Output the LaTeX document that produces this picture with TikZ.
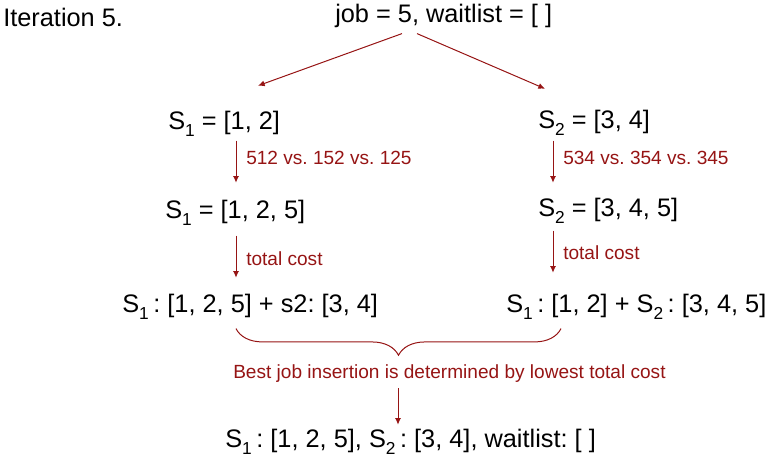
\documentclass[tikz,border=0pt]{standalone}
\usepackage{fontspec}
\setmainfont{Liberation Sans}
\usetikzlibrary{calc,arrows.meta,decorations.pathreplacing}
\definecolor{costred}{RGB}{150,20,20}
\newcommand{\ssub}[1]{\raisebox{-0.24em}{\fontsize{13}{13}\selectfont #1}}
\newcommand{\cln}{\hspace{0.18em}: }
\frenchspacing
\tikzset{
  big/.style={anchor=base west, inner sep=0pt, text height=13.5pt,
              text depth=4pt, font=\fontsize{19}{22}\selectfont},
  note/.style={anchor=base west, inner sep=0pt, text=costred,
               font=\fontsize{14.3}{17}\selectfont},
  arr/.style={draw=costred, line width=0.75pt, -{Latex[length=5pt,width=4.5pt]}},
  brc/.style={draw=costred, line width=0.75pt, decorate,
              decoration={brace, amplitude=20pt}}
}

\begin{document}
\begin{tikzpicture}[x=0.75pt, y=-0.75pt]
  \useasboundingbox (0,0) rectangle (769,466);
  \node[big] (iter) at (3,27) {Iteration 5.};
  \node[big] (job) at (335,23) {job = 5, waitlist = [ ]};
  % the two schedules
  \node[big] (s1a) at (168,130) {S\ssub{1} = [1, 2]};
  \node[big] (s2a) at (538,129) {S\ssub{2} = [3, 4]};
  \node[big] (s1b) at (165,219) {S\ssub{1} = [1, 2, 5]};
  \node[big] (s2b) at (538,217) {S\ssub{2} = [3, 4, 5]};
  \node[big] (comb1) at (122,313) {S\ssub{1}\cln[1, 2, 5] + s2: [3, 4]};
  \node[big] (comb2) at (506,313) {S\ssub{1}\cln[1, 2] + S\ssub{2}\cln[3, 4, 5]};
  \node[big] (final) at (225,448) {S\ssub{1}\cln[1, 2, 5], S\ssub{2}\cln[3, 4], waitlist: [ ]};
  % red notes
  \node[note] (cmp1) at (246,165) {512 vs. 152 vs. 125};
  \node[note] (cmp2) at (563,165) {534 vs. 354 vs. 345};
  \node[note] (tc1) at (246,266) {total cost};
  \node[note] (tc2) at (563,260) {total cost};
  \node[note] (best) at (233,379) {Best job insertion is determined by lowest total cost};
  % arrows
  \draw[arr] ($(job.south west)+(67,5)$) -- ($(s1a.north west)+(90,-26)$);
  \draw[arr] ($(job.south west)+(82,5)$) -- ($(s2a.north west)+(7,-22)$);
  \draw[arr] ($(s1a.south west)+(68,5)$) -- ($(s1b.north west)+(71,-18)$);
  \draw[arr] ($(s2a.south west)+(15,6)$) -- ($(s2b.north west)+(15,-16)$);
  \draw[arr] ($(s1b.south west)+(71,11)$) -- ($(comb1.north west)+(114,-17)$);
  \draw[arr] ($(s2b.south west)+(15,8)$) -- ($(comb2.north west)+(47,-22)$);
  \draw[brc] ($(comb2.south west)+(55,10)$) -- ($(comb1.south west)+(114,10)$);
  \draw[arr] ($(best.south west)+(165,5)$) -- ($(final.north west)+(173,-5)$);
\end{tikzpicture}
\end{document}
